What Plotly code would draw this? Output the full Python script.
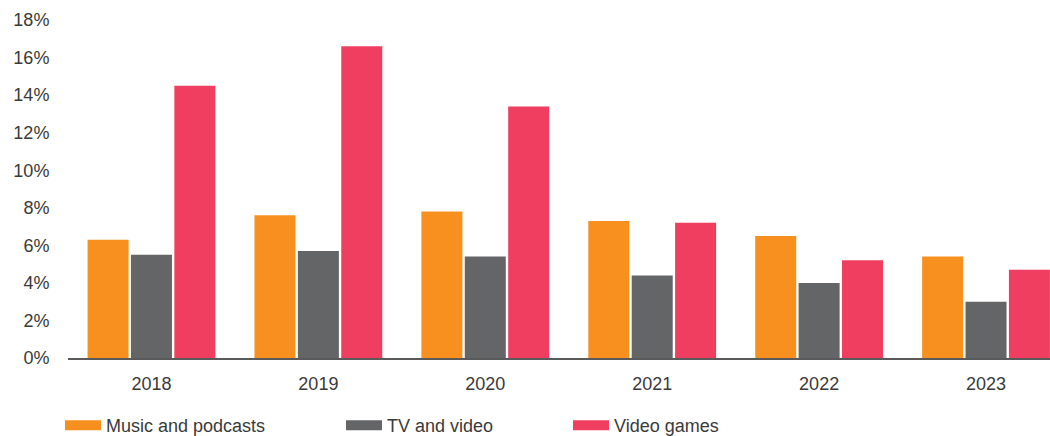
import plotly.graph_objects as go

years = ["2018", "2019", "2020", "2021", "2022", "2023"]
music = [6.3, 7.6, 7.8, 7.3, 6.5, 5.4]
tv = [5.5, 5.7, 5.4, 4.4, 4.0, 3.0]
games = [14.5, 16.6, 13.4, 7.2, 5.2, 4.7]
y_ticks = [0, 2, 4, 6, 8, 10, 12, 14, 16, 18]
y_tick_labels = [f"{v}%" for v in y_ticks]

names = ["Music and podcasts", "TV and video", "Video games"]
colors = ["#F7901E", "#646567", "#F03E60"]
series = [music, tv, games]
legend_ids = ["legend", "legend2", "legend3"]

W, H = 1050, 436
FONT = "Liberation Sans, Arial, Helvetica, sans-serif"
TXT = "#3a3a3a"
FS = 18

fig = go.Figure()
for name, col, vals in zip(names, colors, series):
    fig.add_trace(go.Bar(x=years, y=vals, name=name, marker_color=col,
                         marker_line_width=0, showlegend=False))
# legend swatches (legend-only entries)
for name, col, lid in zip(names, colors, legend_ids):
    fig.add_trace(go.Scatter(x=[None], y=[None], mode="lines", name=name,
                             line=dict(color=col, width=11), legend=lid,
                             showlegend=True, hoverinfo="skip"))

left = 67.5
cat_w = 167.0
x_end = -0.5 + (W - left) / cat_w

leg_common = dict(orientation="h", xref="container", yref="container",
                  yanchor="top", y=1 - 407 / H, bgcolor="rgba(0,0,0,0)",
                  itemwidth=36,
                  font=dict(family=FONT, size=FS, color=TXT))
fig.update_layout(
    width=W, height=H,
    margin=dict(l=left, r=0, t=20, b=78, autoexpand=False),
    paper_bgcolor="white", plot_bgcolor="white",
    barmode="group", bargap=0.22, bargroupgap=0.055,
    font=dict(family=FONT, size=FS, color=TXT),
    legend=dict(x=60 / W, **leg_common),
    legend2=dict(x=341 / W, **leg_common),
    legend3=dict(x=568 / W, **leg_common),
    xaxis=dict(type="category", range=[-0.5, x_end], showline=True,
               linecolor="#5a5a5a", linewidth=2, ticks="outside", ticklen=8,
               tickcolor="rgba(0,0,0,0)", showgrid=False, zeroline=False,
               tickfont=dict(family=FONT, size=FS, color=TXT)),
    yaxis=dict(range=[0, 18], tickmode="array", tickvals=y_ticks,
               ticktext=y_tick_labels,
               showgrid=False, zeroline=False, showline=False,
               ticks="outside", ticklen=14, tickcolor="rgba(0,0,0,0)",
               tickfont=dict(family=FONT, size=FS, color=TXT)),
)

fig.write_html("out.html", config={"displayModeBar": False},
               post_script="document.body.style.margin='0px';"
                           "document.body.style.overflow='hidden';")
